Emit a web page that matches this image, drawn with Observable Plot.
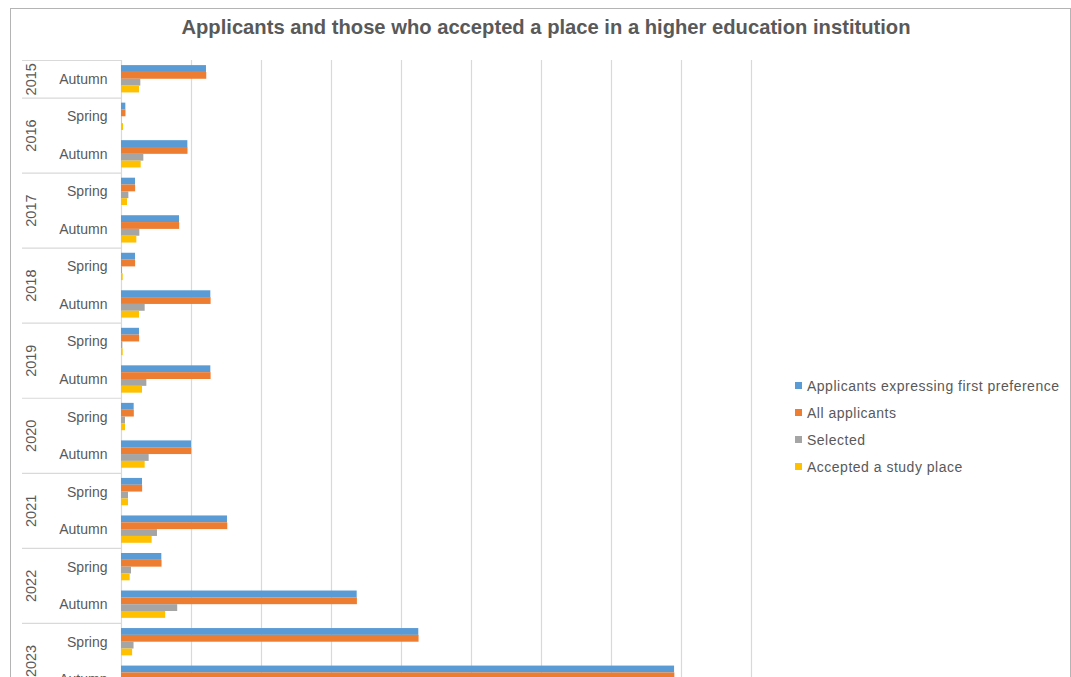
<!DOCTYPE html>
<html>
<head>
<meta charset="utf-8">
<script src="https://cdn.jsdelivr.net/npm/d3@7"></script>
<script src="https://cdn.jsdelivr.net/npm/@observablehq/plot@0.6"></script>
<style>
html, body { margin: 0; padding: 0; background: #fff; overflow: hidden; width: 1071px; height: 677px; }
#wrap { position: relative; width: 1071px; height: 720px; font-family: "Liberation Sans", Arial, sans-serif; color: #595959; }
#frame { position: absolute; left: 10px; top: 8px; width: 1061px; height: 760px; box-sizing: border-box; border: 1px solid #b4b4b4; }
#title { position: absolute; left: 0; width: 1092px; top: 15px; line-height: 24px; text-align: center; font-weight: bold; font-size: 20.2px; }
#chart { position: absolute; left: 0; top: 0; }
#legend { position: absolute; left: 795px; top: 372px; font-size: 14px; letter-spacing: 0.5px; }
.li { height: 27px; display: flex; align-items: center; white-space: nowrap; }
.sw { width: 7px; height: 7px; margin-right: 5px; }
</style>
</head>
<body>
<div id="wrap">
  <div id="frame"></div>
  <div id="chart"></div>
  <div id="title">Applicants and those who accepted a place in a higher education institution</div>
  <div id="legend"></div>
</div>
<script>
// Category rows (hierarchical axis: year / intake)
const rowYears = ["2015","2016","2016","2017","2017","2018","2018","2019","2019","2020","2020","2021","2021","2022","2022","2023","2023"];
const rowSeasons = ["Autumn","Spring","Autumn","Spring","Autumn","Spring","Autumn","Spring","Autumn","Spring","Autumn","Spring","Autumn","Spring","Autumn","Spring","Autumn"];

// Series
const seriesNames = ["Applicants expressing first preference", "All applicants", "Selected", "Accepted a study place"];
const seriesColors = ["#5b9bd5", "#ed7d31", "#a5a5a5", "#ffc000"];

// Values
const firstPreference = [1214, 62, 948, 200, 829, 200, 1276, 257, 1276, 181, 1000, 300, 1514, 576, 3367, 4247, 7901];
const allApplicants   = [1218, 64, 950, 202, 831, 202, 1280, 259, 1280, 183, 1003, 302, 1518, 579, 3370, 4251, 7905];
const selected        = [276, 5, 319, 105, 262, 15, 338, 19, 362, 57, 395, 100, 514, 143, 803, 179, 1150];
const accepted        = [257, 29, 281, 86, 219, 24, 257, 24, 300, 57, 338, 100, 438, 124, 631, 159, 950];

// Vertical gridline values
const xTicks = [0, 1000, 2000, 3000, 4000, 5000, 6000, 7000, 8000, 9000];

const seriesValues = [firstPreference, allApplicants, selected, accepted];

const rows = rowYears.map((year, i) => ({i, year, season: rowSeasons[i]}));
const bars = [];
seriesValues.forEach((vals, s) => vals.forEach((v, i) => bars.push({i, s, series: seriesNames[s], value: v})));

// Year groups: center and boundaries
const yearGroups = d3.groups(rows, d => d.year).map(([year, rs]) => ({year, mid: d3.mean(rs, d => d.i), start: d3.min(rs, d => d.i) - 0.5}));
const boundaries = yearGroups.map(g => g.start);

const groupStart = 0.136, barFrac = 0.182;

const chart = Plot.plot({
  width: 1071,
  height: 698,
  marginLeft: 121,
  marginRight: 320,
  marginTop: 60,
  marginBottom: 0,
  style: {fontFamily: '"Liberation Sans", Arial, sans-serif', fontSize: "14px", color: "#595959", background: "transparent", overflow: "visible"},
  x: {domain: [0, 9000], axis: null},
  y: {domain: [-0.5, rows.length - 0.5], reverse: true, axis: null},
  color: {domain: seriesNames, range: seriesColors},
  marks: [
    Plot.ruleX(xTicks, {x: d => d, stroke: "#d9d9d9", strokeWidth: 1.2}),
    Plot.rect(bars, {
      x1: 0, x2: "value",
      y1: d => d.i - 0.5 + groupStart + d.s * barFrac,
      y2: d => d.i - 0.5 + groupStart + (d.s + 1) * barFrac,
      fill: "series"
    }),
    Plot.ruleY(boundaries, {y: d => d, insetLeft: -99, insetRight: 630, stroke: "#d9d9d9", strokeWidth: 1.2}),
    Plot.text(rows, {y: "i", text: "season", frameAnchor: "left", dx: -14, textAnchor: "end", fill: "#595959", fontSize: 14, letterSpacing: "0.5px"}),
    Plot.text(yearGroups, {y: "mid", text: "year", frameAnchor: "left", dx: -90, rotate: -90, textAnchor: "middle", fill: "#595959", fontSize: 14.5, letterSpacing: "0.3px"})
  ]
});
document.getElementById("chart").appendChild(chart);

const legend = d3.select("#legend");
seriesNames.forEach((name, s) => {
  const li = legend.append("div").attr("class", "li");
  li.append("div").attr("class", "sw").style("background", seriesColors[s]);
  li.append("span").text(name);
});
</script>
</body>
</html>
